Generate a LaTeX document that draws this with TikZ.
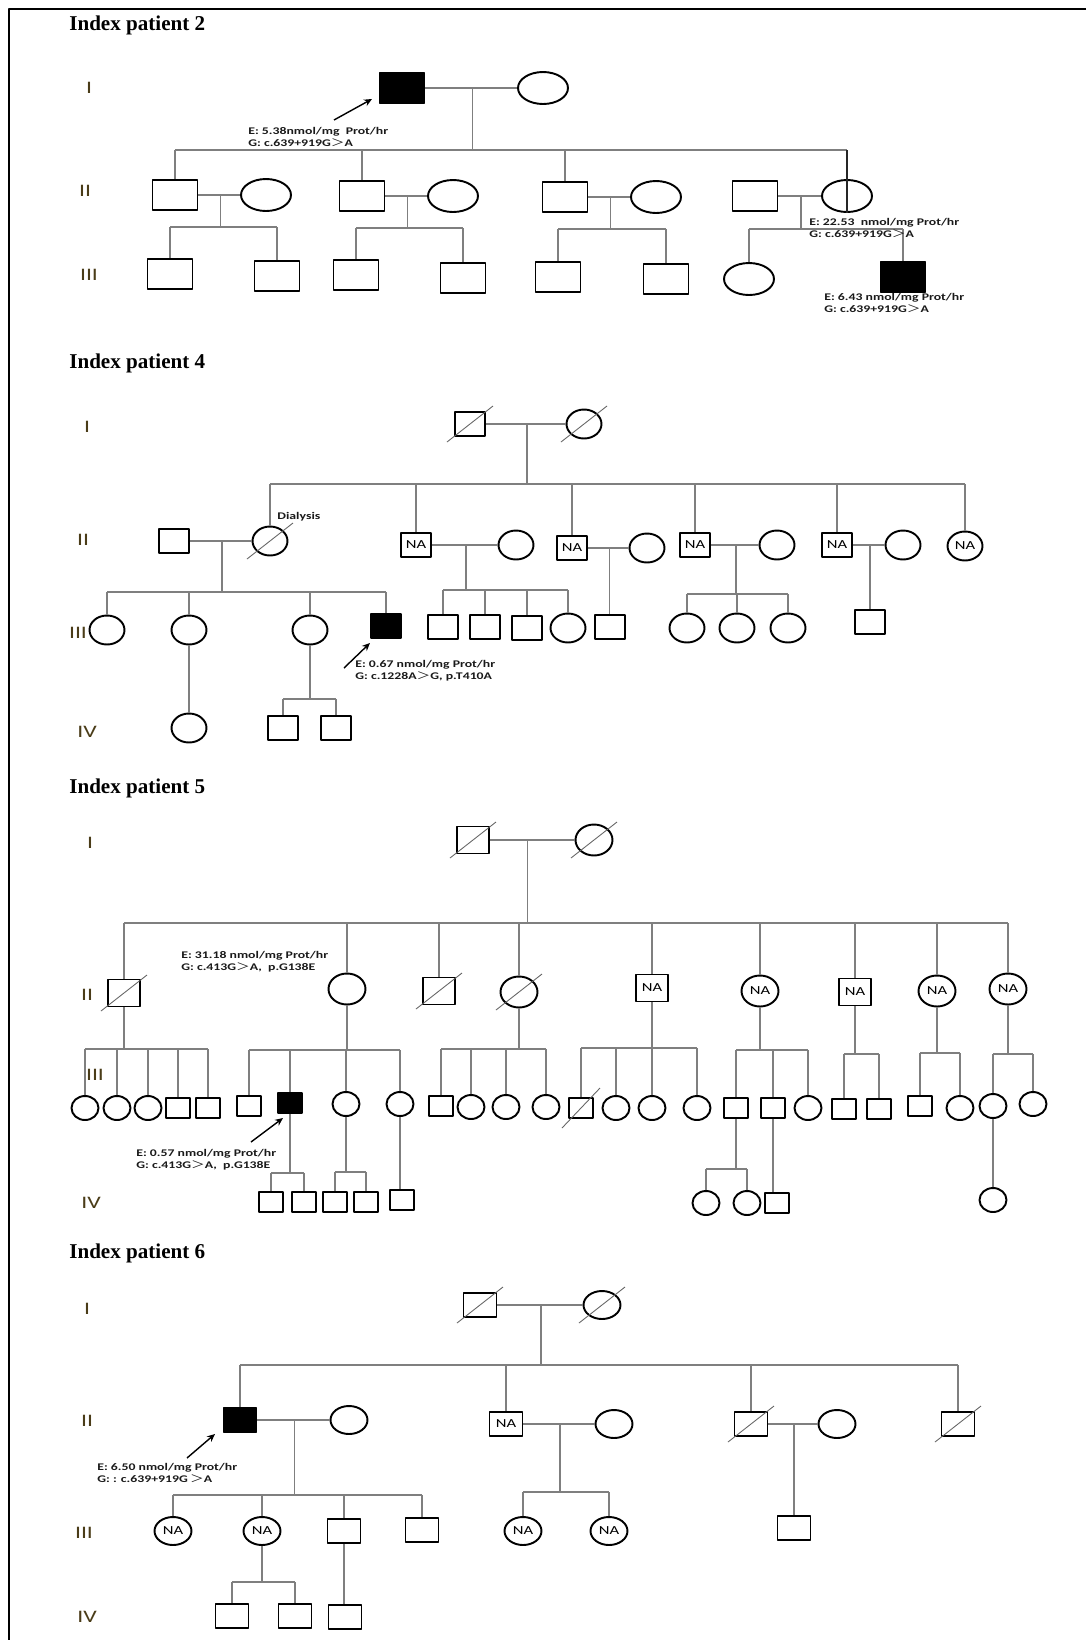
\documentclass[tikz,border=0pt]{standalone}
\usepackage{fontspec}
\setmainfont{Carlito}
\newfontfamily\titlefont{Liberation Serif}
\newfontfamily\cjk{Noto Sans CJK SC}
\usepackage{graphicx}
\usetikzlibrary{arrows.meta,calc,shapes.geometric}
\definecolor{pedink}{HTML}{1A1A1A}
\definecolor{pedline}{HTML}{7F7F7F}
\definecolor{pedgen}{HTML}{4A3C18}
\newcommand{\pedgt}{{\cjk\mdseries ＞}}
\newcommand{\wide}[1]{\scalebox{1.35}[1]{#1}}
\newcommand{\pednote}[2]{\scalebox{1.35}[1]{\begin{tabular}{@{}l@{}}#1\\#2\end{tabular}}}

\begin{document}
\begin{tikzpicture}[x=0.02cm,y=-0.02cm,line join=round,
  link/.style={draw=pedline,line width=0.6pt},
  slash/.style={draw=black!60,line width=0.5pt},
  pointer/.style={-{Stealth[length=4.5pt,width=4pt]},line width=0.8pt},
  sym/.style={draw=black,line width=1.1pt,inner sep=0pt,font=\fontsize{7}{8}\selectfont},
  aff/.style={fill=black},
  sqA/.style={sym,rectangle,minimum width=0.9cm,minimum height=0.6cm},
  ciA/.style={sym,ellipse,minimum width=1.0cm,minimum height=0.64cm},
  sqB/.style={sym,rectangle,minimum width=0.6cm,minimum height=0.48cm},
  ciB/.style={sym,ellipse,minimum width=0.7cm,minimum height=0.58cm},
  sqC/.style={sym,rectangle,minimum width=0.64cm,minimum height=0.54cm},
  ciC/.style={sym,ellipse,minimum width=0.74cm,minimum height=0.62cm},
  sqCs/.style={sym,rectangle,minimum width=0.48cm,minimum height=0.4cm},
  ciCs/.style={sym,ellipse,minimum width=0.54cm,minimum height=0.48cm},
  sqD/.style={sym,rectangle,minimum width=0.66cm,minimum height=0.48cm},
  ciD/.style={sym,ellipse,minimum width=0.74cm,minimum height=0.56cm},
  ttl/.style={anchor=west,inner sep=0pt,font=\titlefont\bfseries\fontsize{12}{14}\selectfont},
  gen/.style={inner sep=0pt,text=pedgen,font=\fontsize{10}{12}\selectfont},
  note/.style={anchor=west,inner sep=0pt,text=pedink,font=\bfseries\fontsize{5.8}{6.7}\selectfont}]
\path[use as bounding box] (0,0) rectangle (1086,1640);
\fill[white] (0,0) rectangle (1086,1640);
\draw[line width=1.1pt] (1086,9) -- (9,9) -- (9,1640);

% ---------- Index patient 2
\node[ttl] (aT) at (69,25) {Index patient 2};
\node[gen] (aG1) at (89,88) {\wide{I}};
\node[gen] (aG2) at (85,191) {\wide{II}};
\node[gen] (aG3) at (89,275) {\wide{III}};
\node[sqA,aff] (aI1) at (402,88) {};
\node[ciA] (aI2) at (543,88) {};
\node[sqA] (aII1) at (175,195) {};
\node[ciA] (aII2) at (266,195) {};
\node[sqA] (aII3) at (362,196) {};
\node[ciA] (aII4) at (453,196) {};
\node[sqA] (aII5) at (565,197) {};
\node[ciA] (aII6) at (656,197) {};
\node[sqA] (aII7) at (755,196) {};
\node[ciA] (aII8) at (847,196) {};
\node[sqA] (aIII1) at (170,274) {};
\node[sqA] (aIII2) at (277,276) {};
\node[sqA] (aIII3) at (356,275) {};
\node[sqA] (aIII4) at (463,278) {};
\node[sqA] (aIII5) at (558,277) {};
\node[sqA] (aIII6) at (666,279) {};
\node[ciA] (aIII7) at (749,279) {};
\node[sqA,aff] (aIII8) at (903,277) {};
\coordinate (aS0) at (0,150);
\coordinate (aS1) at (0,227);
\coordinate (aS2) at (0,228);
\coordinate (aS3) at (0,229);
\coordinate (aS4) at (0,229);
\coordinate (aJ0) at ($(aI1)!.5!(aI2)$);
\draw[link] (aI1) -- (aI2);
\draw[link] (aJ0) -- (aJ0 |- aS0);
\draw[link] (aII1.north |- aS0) -- (aII8.north |- aS0);
\foreach \n in {aII1,aII3,aII5} \draw[link] (\n.north) -- (\n.north |- aS0);
\draw[link,draw=black!85] (aII8.north |- aS0) -- (aII8.south);
\foreach \p/\q/\k/\l/\r in {aII1/aII2/1/aIII1/aIII2,aII3/aII4/2/aIII3/aIII4,aII5/aII6/3/aIII5/aIII6,aII7/aII8/4/aIII7/aIII8} {
  \coordinate (aJ\k) at ($(\p)!.5!(\q)$);
  \draw[link] (\p) -- (\q);
  \draw[link] (aJ\k) -- (aJ\k |- aS\k);
  \draw[link] (\l.north |- aS\k) -- (\r.north |- aS\k);
  \draw[link] (\l.north) -- (\l.north |- aS\k);
  \draw[link] (\r.north) -- (\r.north |- aS\k);
}
\coordinate (aP) at (334,120);
\coordinate (aQ) at (372,99);
\draw[pointer] (aP) -- (aQ);
\node[note] (aN1) at (248,138) {\pednote{E: 5.38nmol/mg\ \ Prot/hr}{G: c.639+919G\pedgt A}};
\node[note] (aN2) at (809,229) {\pednote{E: 22.53\ \ nmol/mg Prot/hr}{G: c.639+919G\pedgt A}};
\node[note] (aN3) at (824,304) {\pednote{E: 6.43 nmol/mg Prot/hr}{G: c.639+919G\pedgt A}};

% ---------- Index patient 4
\node[ttl] (bT) at (69,363) {Index patient 4};
\node[gen] (bG1) at (87,427) {\wide{I}};
\node[gen] (bG2) at (83,540) {\wide{II}};
\node[gen] (bG3) at (78,633) {\wide{III}};
\node[gen] (bG4) at (87,732) {\wide{IV}};
\node[sqB] (bI1) at (470,424) {};
\node[ciB] (bI2) at (584,424) {};
\node[sqB] (bII1) at (174,541) {};
\node[ciB] (bII2) at (270,541) {};
\node[sqB] (bII3) at (416,545) {\wide{NA}};
\node[ciB] (bII4) at (516,545) {};
\node[sqB] (bII5) at (572,548) {\wide{NA}};
\node[ciB] (bII6) at (647,548) {};
\node[sqB] (bII7) at (695,545) {\wide{NA}};
\node[ciB] (bII8) at (777,545) {};
\node[sqB] (bII9) at (837,545) {\wide{NA}};
\node[ciB] (bII10) at (903,545) {};
\node[ciB] (bII11) at (965,546) {\wide{NA}};
\node[ciB] (bIII1) at (107,630) {};
\node[ciB] (bIII2) at (189,630) {};
\node[ciB] (bIII3) at (310,630) {};
\node[sqB,aff] (bIII4) at (386,626) {};
\node[sqB] (bIII5) at (443,627) {};
\node[sqB] (bIII6) at (485,627) {};
\node[sqB] (bIII7) at (527,628) {};
\node[ciB] (bIII8) at (568,628) {};
\node[sqB] (bIII9) at (610,627) {};
\node[ciB] (bIII10) at (687,628) {};
\node[ciB] (bIII11) at (737,628) {};
\node[ciB] (bIII12) at (788,628) {};
\node[sqB] (bIII13) at (870,622) {};
\node[ciB] (bIV1) at (189,728) {};
\node[sqB] (bIV2) at (283,728) {};
\node[sqB] (bIV3) at (336,728) {};
\foreach \n in {bI1,bI2,bII2} \draw[slash] ($(\n)+(-23,18)$) -- ($(\n)+(23,-18)$);
\coordinate (bS0) at (0,484);
\coordinate (bS1) at (0,592);
\coordinate (bS2) at (0,590);
\coordinate (bS4) at (0,594);
\coordinate (bS6) at (0,699);
\coordinate (bJ0) at ($(bI1)!.5!(bI2)$);
\draw[link] (bI1) -- (bI2);
\draw[link] (bJ0) -- (bJ0 |- bS0);
\draw[link] (bII2.north |- bS0) -- (bII11.north |- bS0);
\foreach \n in {bII2,bII3,bII5,bII7,bII9,bII11} \draw[link] (\n.north) -- (\n.north |- bS0);
\foreach \p/\q/\k in {bII1/bII2/1,bII3/bII4/2,bII5/bII6/3,bII7/bII8/4,bII9/bII10/5} {
  \coordinate (bJ\k) at ($(\p)!.5!(\q)$);
  \draw[link] (\p) -- (\q);
}
\draw[link] (bJ1) -- (bJ1 |- bS1);
\draw[link] (bJ2) -- (bJ2 |- bS2);
\draw[link] (bJ3) -- (bJ3 |- bIII9.north);
\draw[link] (bJ4) -- (bJ4 |- bS4);
\draw[link] (bJ5) -- (bJ5 |- bIII13.north);
\draw[link] (bIII1.north |- bS1) -- (bIII4.north |- bS1);
\draw[link] (bIII5.north |- bS2) -- (bIII8.north |- bS2);
\draw[link] (bIII10.north |- bS4) -- (bIII12.north |- bS4);
\foreach \n/\k in {bIII1/1,bIII2/1,bIII3/1,bIII4/1,bIII5/2,bIII6/2,bIII7/2,bIII8/2,bIII10/4,bIII11/4,bIII12/4}
  \draw[link] (\n.north) -- (\n.north |- bS\k);
\draw[link] (bIII2.south) -- (bIV1.north);
\draw[link] (bIII3.south) -- (bIII3.south |- bS6);
\draw[link] (bIV2.north |- bS6) -- (bIV3.north |- bS6);
\foreach \n in {bIV2,bIV3} \draw[link] (\n.north) -- (\n.north |- bS6);
\node[note] (bD) at (277,517) {\wide{Dialysis}};
\coordinate (bP) at (344,668);
\coordinate (bQ) at (370,643);
\draw[pointer] (bP) -- (bQ);
\node[note] (bN1) at (355,671) {\pednote{E: 0.67 nmol/mg Prot/hr}{G: c.1228A\pedgt G, p.T410A}};

% ---------- Index patient 5
\node[ttl] (cT) at (69,788) {Index patient 5};
\node[gen] (cG1) at (90,843) {\wide{I}};
\node[gen] (cG2) at (87,995) {\wide{II}};
\node[gen] (cG3) at (95,1075) {\wide{III}};
\node[gen] (cG4) at (91,1203) {\wide{IV}};
\node[sqC] (cI1) at (473,840) {};
\node[ciC] (cI2) at (594,840) {};
\node[sqC] (cII1) at (124,993) {};
\node[ciC] (cII2) at (347,989) {};
\node[sqC] (cII3) at (439,991) {};
\node[ciC] (cII4) at (519,992) {};
\node[sqC] (cII5) at (652,988) {\wide{NA}};
\node[ciC] (cII6) at (760,991) {\wide{NA}};
\node[sqC] (cII7) at (855,992) {\wide{NA}};
\node[ciC] (cII8) at (937,991) {\wide{NA}};
\node[ciC] (cII9) at (1008,989) {\wide{NA}};
% generation III
\foreach \n/\s/\x/\y in {cIII1/ciCs/85/1108,cIII2/ciCs/117/1108,cIII3/ciCs/148/1108,cIII4/sqCs/178/1108,cIII5/sqCs/208/1108,
  cIII6/sqCs/249/1106,cIII8/ciCs/346/1104,cIII9/ciCs/400/1104,
  cIII10/sqCs/441/1106,cIII11/ciCs/471/1107,cIII12/ciCs/506/1107,cIII13/ciCs/546/1107,
  cIII14/sqCs/581/1108,cIII15/ciCs/616/1108,cIII16/ciCs/652/1108,cIII17/ciCs/697/1108,
  cIII18/sqCs/736/1108,cIII19/sqCs/773/1108,cIII20/ciCs/808/1108,
  cIII21/sqCs/844/1109,cIII22/sqCs/879/1109,cIII23/sqCs/920/1106,cIII24/ciCs/960/1108,
  cIII25/ciCs/993/1106,cIII26/ciCs/1033/1104}
  \node[\s] (\n) at (\x,\y) {};
\node[sqCs,aff] (cIII7) at (290,1103) {};
% generation IV
\foreach \n/\s/\x/\y in {cIV1/sqCs/271/1202,cIV2/sqCs/304/1202,cIV3/sqCs/335/1202,cIV4/sqCs/366/1202,cIV5/sqCs/402/1200,
  cIV6/ciCs/706/1203,cIV7/ciCs/747/1203,cIV8/sqCs/777/1203,cIV9/ciCs/993/1200}
  \node[\s] (\n) at (\x,\y) {};
\foreach \n in {cI1,cI2,cII1,cII3,cII4} \draw[slash] ($(\n)+(-23,18)$) -- ($(\n)+(23,-18)$);
\draw[slash] ($(cIII14)+(-19,20)$) -- ($(cIII14)+(19,-20)$);
\coordinate (cS0) at (0,923);
\coordinate (cJ0) at ($(cI1)!.45!(cI2)$);
\draw[link] (cI1) -- (cI2);
\draw[link] (cJ0) -- (cJ0 |- cS0);
\draw[link] (cII1.north |- cS0) -- (cII9.north |- cS0);
\foreach \n in {cII1,cII2,cII3,cII4,cII5,cII6,cII7,cII8,cII9} \draw[link] (\n.north) -- (\n.north |- cS0);
\foreach \p/\l/\r/\y in {cII1/cIII1/cIII5/1049,cII2/cIII6/cIII9/1050,cII4/cIII10/cIII13/1049,cII5/cIII14/cIII17/1048,
  cII6/cIII18/cIII20/1050,cII7/cIII21/cIII22/1054,cII8/cIII23/cIII24/1053,cII9/cIII25/cIII26/1054} {
  \coordinate (\p S) at (0,\y);
  \draw[link] (\p.south) -- (\p.south |- \p S);
  \draw[link] (\l.north |- \p S) -- (\r.north |- \p S);
}
\foreach \n/\p in {cIII1/cII1,cIII2/cII1,cIII3/cII1,cIII4/cII1,cIII5/cII1,cIII6/cII2,cIII7/cII2,cIII8/cII2,cIII9/cII2,
  cIII10/cII4,cIII11/cII4,cIII12/cII4,cIII13/cII4,cIII14/cII5,cIII15/cII5,cIII16/cII5,cIII17/cII5,
  cIII18/cII6,cIII19/cII6,cIII20/cII6,cIII21/cII7,cIII22/cII7,cIII23/cII8,cIII24/cII8,cIII25/cII9,cIII26/cII9}
  \draw[link] (\n.north) -- (\n.north |- \p S);
\foreach \p/\l/\r/\y in {cIII7/cIV1/cIV2/1173,cIII8/cIV3/cIV4/1172,cIII18/cIV6/cIV7/1169} {
  \coordinate (\p S) at (0,\y);
  \draw[link] (\p.south) -- (\p.south |- \p S);
  \draw[link] (\l.north |- \p S) -- (\r.north |- \p S);
  \draw[link] (\l.north) -- (\l.north |- \p S);
  \draw[link] (\r.north) -- (\r.north |- \p S);
}
\draw[link] (cIII9.south) -- (cIII9.south |- cIV5.north);
\draw[link] (cIII19.south) -- (cIII19.south |- cIV8.north);
\draw[link] (cIII25.south) -- (cIV9.north);
\node[note] (cN1) at (181,962) {\pednote{E: 31.18 nmol/mg Prot/hr}{G: c.413G\pedgt A,\ \ p.G138E}};
\coordinate (cP) at (251,1142);
\coordinate (cQ) at (283,1118);
\draw[pointer] (cP) -- (cQ);
\node[note] (cN2) at (136,1160) {\pednote{E: 0.57 nmol/mg Prot/hr}{G: c.413G\pedgt A,\ \ p.G138E}};

% ---------- Index patient 6
\node[ttl] (dT) at (69,1253) {Index patient 6};
\node[gen] (dG1) at (87,1309) {\wide{I}};
\node[gen] (dG2) at (87,1421) {\wide{II}};
\node[gen] (dG3) at (84,1533) {\wide{III}};
\node[gen] (dG4) at (87,1617) {\wide{IV}};
\node[sqD] (dI1) at (480,1305) {};
\node[ciD] (dI2) at (602,1305) {};
\node[sqD,aff] (dII1) at (240,1420) {};
\node[ciD] (dII2) at (349,1420) {};
\node[sqD] (dII3) at (506,1424) {\wide{NA}};
\node[ciD] (dII4) at (614,1424) {};
\node[sqD] (dII5) at (751,1424) {};
\node[ciD] (dII6) at (837,1424) {};
\node[sqD] (dII7) at (958,1424) {};
\node[ciD] (dIII1) at (173,1531) {\wide{NA}};
\node[ciD] (dIII2) at (262,1531) {\wide{NA}};
\node[sqD] (dIII3) at (344,1531) {};
\node[sqD] (dIII4) at (422,1530) {};
\node[ciD] (dIII5) at (523,1531) {\wide{NA}};
\node[ciD] (dIII6) at (609,1531) {\wide{NA}};
\node[sqD] (dIII7) at (794,1528) {};
\node[sqD] (dIV1) at (232,1616) {};
\node[sqD] (dIV2) at (295,1616) {};
\node[sqD] (dIV3) at (345,1617) {};
\foreach \n in {dI1,dI2,dII5,dII7} \draw[slash] ($(\n)+(-23,18)$) -- ($(\n)+(23,-18)$);
\coordinate (dS0) at (0,1365);
\coordinate (dS1) at (0,1495);
\coordinate (dS2) at (0,1492);
\coordinate (dS4) at (0,1582);
\coordinate (dJ0) at ($(dI1)!.5!(dI2)$);
\draw[link] (dI1) -- (dI2);
\draw[link] (dJ0) -- (dJ0 |- dS0);
\draw[link] (dII1.north |- dS0) -- (dII7.north |- dS0);
\foreach \n in {dII1,dII3,dII5,dII7} \draw[link] (\n.north) -- (\n.north |- dS0);
\foreach \p/\q/\k in {dII1/dII2/1,dII3/dII4/2,dII5/dII6/3} {
  \coordinate (dJ\k) at ($(\p)!.5!(\q)$);
  \draw[link] (\p) -- (\q);
}
\draw[link] (dJ1) -- (dJ1 |- dS1);
\draw[link] (dJ2) -- (dJ2 |- dS2);
\draw[link] (dJ3) -- (dJ3 |- dIII7.north);
\draw[link] (dIII1.north |- dS1) -- (dIII4.north |- dS1);
\draw[link] (dIII5.north |- dS2) -- (dIII6.north |- dS2);
\foreach \n/\k in {dIII1/1,dIII2/1,dIII3/1,dIII4/1,dIII5/2,dIII6/2} \draw[link] (\n.north) -- (\n.north |- dS\k);
\draw[link] (dIII2.south) -- (dIII2.south |- dS4);
\draw[link] (dIV1.north |- dS4) -- (dIV2.north |- dS4);
\foreach \n in {dIV1,dIV2} \draw[link] (\n.north) -- (\n.north |- dS4);
\draw[link] (dIII3.south) -- (dIII3.south |- dIV3.north);
\coordinate (dP) at (187,1458);
\coordinate (dQ) at (215,1434);
\draw[pointer] (dP) -- (dQ);
\node[note] (dN1) at (97,1474) {\pednote{E: 6.50 nmol/mg Prot/hr}{G: : c.639+919G\,\pedgt A}};
\end{tikzpicture}
\end{document}
